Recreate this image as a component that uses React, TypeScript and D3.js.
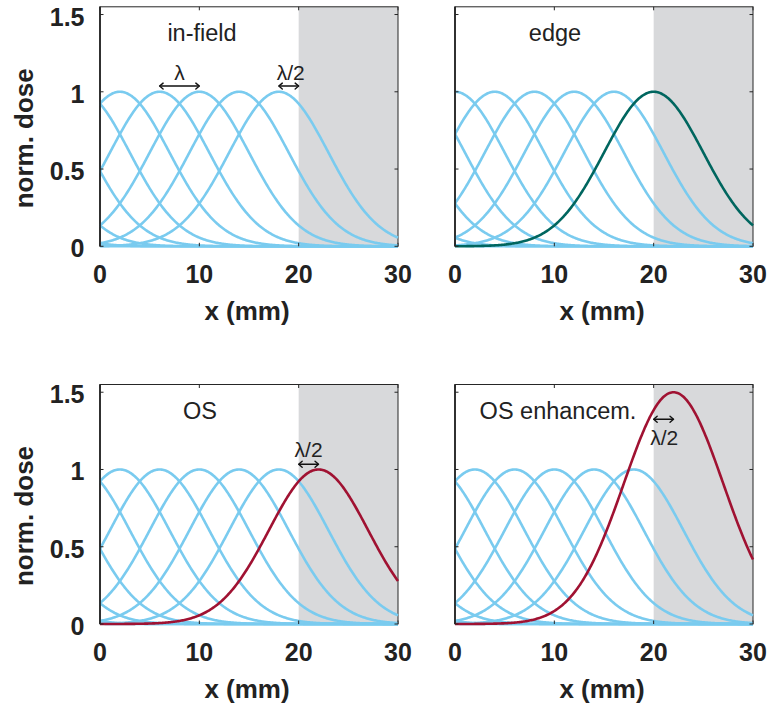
import React from "react";
import * as d3 from "d3";

// Beam model: Gaussian spots of fixed width (mm)
const beamSigma = 5;
const fieldEdge = 20;
const xDomain: [number, number] = [0, 30];
const yDomain: [number, number] = [0, 1.55];
const xTicks = [0, 10, 20, 30];
const yTicks = [0, 0.5, 1, 1.5];
const yTickLabels = ["0", "0.5", "1", "1.5"];

// Spot centres (mm)
const inFieldCentres = [-18, -14, -10, -6, -2, 2, 6, 10, 14, 18];
const edgeCentres = [-16, -12, -8, -4, 0, 4, 8, 12, 16];

// Highlighted spots: [centre, weight]
const edgeSpot = [20, 1];
const osSpot = [22, 1];
const osEnhancedSpot = [22, 1.5];

const titles = ["in-field", "edge", "OS", "OS enhancem."];

const BLUE = "#7acbef";
const GREEN = "#00665f";
const RED = "#a01232";
const SHADE = "#d8d9db";
const AXIS = "#262626";
const FONT = "'Liberation Sans', Arial, Helvetica, sans-serif";

const samples = d3.range(xDomain[0], xDomain[1] + 1e-9, 0.1);

function profile(centre: number, weight: number) {
  return samples.map((x) => [x, weight * Math.exp(-((x - centre) ** 2) / (2 * beamSigma ** 2))] as [number, number]);
}

type Arrow = { x1: number; x2: number; y: number; lx: number; ly: number; text: string };

type PanelDef = {
  left: number;
  top: number;
  title: string;
  titleX: number;
  centres: number[];
  spot?: number[];
  spotColor?: string;
  arrows: Arrow[];
  showY: boolean;
};

const W = 298;
const H = 239.5;

const panels: PanelDef[] = [
  {
    left: 100, top: 6.8, title: titles[0], titleX: 202, centres: inFieldCentres, showY: true,
    arrows: [
      { x1: 6, x2: 10, y: 1.037, lx: 8, ly: 1.075, text: "λ" },
      { x1: 18, x2: 20, y: 1.037, lx: 19.2, ly: 1.075, text: "λ/2" },
    ],
  },
  {
    left: 455, top: 6.8, title: titles[1], titleX: 555, centres: edgeCentres, showY: false,
    spot: edgeSpot, spotColor: GREEN, arrows: [],
  },
  {
    left: 100, top: 384.5, title: titles[2], titleX: 200, centres: inFieldCentres, showY: true,
    spot: osSpot, spotColor: RED,
    arrows: [{ x1: 20, x2: 22, y: 1.034, lx: 21.0, ly: 1.08, text: "λ/2" }],
  },
  {
    left: 455, top: 384.5, title: titles[3], titleX: 558, centres: inFieldCentres, showY: false,
    spot: osEnhancedSpot, spotColor: RED,
    arrows: [{ x1: 20, x2: 22, y: 1.325, lx: 21.07, ly: 1.157, text: "λ/2" }],
  },
];

function DoubleArrow({ x1, x2, y }: { x1: number; x2: number; y: number }) {
  const h = 3.5;
  return (
    <g stroke="#111" strokeWidth={1.4} fill="none" strokeLinecap="round" strokeLinejoin="round">
      <line x1={x1 + 0.5} x2={x2 - 0.5} y1={y} y2={y} />
      <path d={`M${x1 + h},${y - h * 0.85} L${x1},${y} L${x1 + h},${y + h * 0.85}`} />
      <path d={`M${x2 - h},${y - h * 0.85} L${x2},${y} L${x2 - h},${y + h * 0.85}`} />
    </g>
  );
}

function Panel({ p }: { p: PanelDef }) {
  const x = d3.scaleLinear().domain(xDomain).range([p.left, p.left + W]);
  const y = d3.scaleLinear().domain(yDomain).range([p.top + H, p.top]);
  const line = d3
    .line<[number, number]>()
    .x((d) => x(d[0]))
    .y((d) => y(d[1]))
    .curve(d3.curveLinear);
  const y0 = y(0);
  const tickLen = 3.5;

  return (
    <g>
      <rect x={x(fieldEdge)} y={p.top} width={x(xDomain[1]) - x(fieldEdge)} height={H} fill={SHADE} />
      {/* frame */}
      <rect x={p.left} y={p.top} width={W} height={H} fill="none" stroke={AXIS} strokeWidth={1} />
      {p.centres.map((c, i) => (
        <path key={i} d={line(profile(c, 1)) || ""} fill="none" stroke={BLUE} strokeWidth={2.6} />
      ))}
      {p.spot && (
        <path d={line(profile(p.spot[0], p.spot[1])) || ""} fill="none" stroke={p.spotColor} strokeWidth={2.6} />
      )}
      <line x1={p.left} x2={p.left} y1={p.top} y2={p.top + H} stroke={AXIS} strokeWidth={1.8} />
      {/* ticks */}
      <g stroke={AXIS} strokeWidth={1}>
        {xTicks.map((t) => (
          <g key={"x" + t}>
            <line x1={x(t)} x2={x(t)} y1={y0} y2={y0 - tickLen} />
            <line x1={x(t)} x2={x(t)} y1={p.top} y2={p.top + tickLen} />
          </g>
        ))}
        {yTicks.map((t) => (
          <g key={"y" + t}>
            <line x1={p.left} x2={p.left + tickLen} y1={y(t)} y2={y(t)} />
            <line x1={p.left + W} x2={p.left + W - tickLen} y1={y(t)} y2={y(t)} />
          </g>
        ))}
      </g>
      {/* tick labels */}
      <g fontFamily={FONT} fontWeight="bold" fontSize={25} fill="#222">
        {xTicks.map((t) => (
          <text key={"xl" + t} x={x(t)} y={y0 + 37} textAnchor="middle">
            {t}
          </text>
        ))}
        {p.showY &&
          yTicks.map((t, i) => (
            <text key={"yl" + t} x={p.left - 15.5} y={y(t) + 11} textAnchor="end">
              {yTickLabels[i]}
            </text>
          ))}
        <text x={p.left + W / 2 - 2} y={y0 + 74} textAnchor="middle" fontSize={26}>
          x (mm)
        </text>
        {p.showY && (
          <text
            transform={`translate(${p.left - 67},${y0 - 108}) rotate(-90)`}
            textAnchor="middle"
            fontSize={26}
          >
            norm. dose
          </text>
        )}
      </g>
      <text x={p.titleX} y={p.top + 34} textAnchor="middle" fontFamily={FONT} fontSize={23.5} fill="#222">
        {p.title}
      </text>
      {p.arrows.map((a, i) => (
        <g key={i}>
          <DoubleArrow x1={x(a.x1)} x2={x(a.x2)} y={y(a.y)} />
          <text x={x(a.lx)} y={y(a.ly)} textAnchor="middle" fontFamily={FONT} fontSize={21} fill="#222">
            {a.text}
          </text>
        </g>
      ))}
    </g>
  );
}

export default function App() {
  return (
    <svg
      width={768}
      height={711}
      viewBox="0 0 768 711"
      style={{ position: "absolute", left: 0, top: 0, background: "#fff" }}
    >
      {panels.map((p, i) => (
        <Panel key={i} p={p} />
      ))}
    </svg>
  );
}
